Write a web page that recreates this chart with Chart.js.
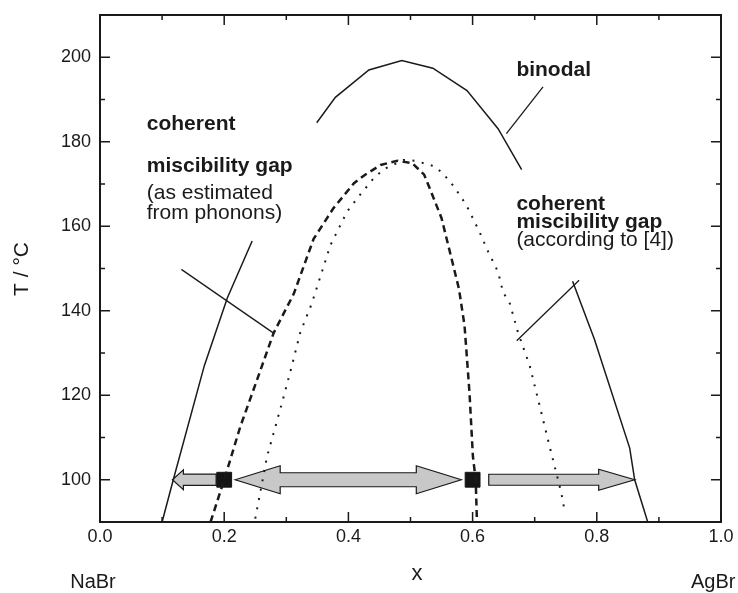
<!DOCTYPE html>
<html>
<head>
<meta charset="utf-8">
<script src="https://cdn.jsdelivr.net/npm/chart.js@4"></script>
<style>
  html, body { margin: 0; padding: 0; background: #fff; }
  canvas { display: block; }
</style>
</head>
<body>
<canvas id="phaseChart" width="738" height="593"></canvas>
<script>
const FONT = "'Liberation Sans', Arial, Helvetica, sans-serif";
const INK = "#1a1a1a";

// axis ticks
const xTickValues = [0, 0.2, 0.4, 0.6, 0.8, 1.0];
const xTickLabels = ["0.0", "0.2", "0.4", "0.6", "0.8", "1.0"];
const xMinorTicks = [0.1, 0.3, 0.5, 0.7, 0.9];
const yTickValues = [100, 120, 140, 160, 180, 200];
const yTickLabels = ["100", "120", "140", "160", "180", "200"];
const yMinorTicks = [110, 130, 150, 170, 190];

// binodal (solid), three pieces
const binodalLeftX = [0.100, 0.118, 0.168, 0.205, 0.245];
const binodalLeftT = [90, 100, 127, 143, 156.5];
const binodalTopX = [0.349, 0.379, 0.433, 0.486, 0.536, 0.591, 0.641, 0.679];
const binodalTopT = [184.5, 190.5, 197, 199.2, 197.4, 192.1, 183.1, 173.4];
const binodalRightX = [0.761, 0.796, 0.853, 0.861, 0.882];
const binodalRightT = [147, 133.3, 107.5, 100, 90];

// coherent gap estimated from phonons (dashed)
const phononX = [0.178, 0.200, 0.226, 0.253, 0.2795, 0.312, 0.344, 0.376, 0.409, 0.427, 0.452, 0.479, 0.503, 0.522, 0.532, 0.550, 0.566, 0.578, 0.587, 0.595, 0.6005, 0.605, 0.607];
const phononT = [90, 100, 112.6, 123.7, 134.7, 144, 157, 164.3, 170.2, 172.2, 174.5, 175.5, 174.9, 172.2, 168.6, 161.9, 152.4, 145.2, 136.5, 120.6, 105.5, 100, 90];

// coherent gap according to [4] (dotted)
const ref4X = [0.250, 0.269, 0.2795, 0.296, 0.309, 0.3226, 0.341, 0.371, 0.398, 0.419, 0.441, 0.457, 0.489, 0.508, 0.540, 0.554, 0.570, 0.590, 0.611, 0.625, 0.641, 0.649, 0.660, 0.673, 0.692, 0.708, 0.724, 0.743, 0.749];
const ref4T = [90.8, 105.5, 111, 119.8, 127, 134.9, 141.7, 155.5, 163.5, 167.5, 171.4, 173.5, 175.7, 175.5, 174.1, 172.2, 169.4, 165, 158.7, 154, 149.2, 144.4, 141.7, 134.9, 127, 117.5, 107.9, 96.8, 92];

// measured compositions at 100 °C
const markerX = [0.2, 0.6];
const markerT = [100, 100];

// leader lines from the labels
const leaderPhononX = [0.131, 0.2795];
const leaderPhononT = [149.8, 134.7];
const leaderBinodalX = [0.7134, 0.6544];
const leaderBinodalT = [193.0, 181.9];
const leaderRef4X = [0.671, 0.7715];
const leaderRef4T = [132.9, 147.2];

// arrows at 100 °C: [tail, tip] in x
const arrowLevel = 100;
const arrowSpans = [[0.187, 0.1166], [0.2177, 0.5818], [0.626, 0.861]];
const arrowStyles = [
  { head: 11, half: 10, shaft: 5.7, double: false },
  { head: 45, half: 14, shaft: 7, double: true },
  { head: 36, half: 10.5, shaft: 5.5, double: false }
];

const notes = [
  { text: "coherent", x: 0.0753, t: 182.8, bold: true },
  { text: "miscibility gap", x: 0.0753, t: 172.9, bold: true },
  { text: "(as estimated", x: 0.0753, t: 166.5 },
  { text: "from phonons)", x: 0.0753, t: 161.7 },
  { text: "binodal", x: 0.6705, t: 195.6, bold: true },
  { text: "coherent", x: 0.6705, t: 163.9, bold: true },
  { text: "miscibility gap", x: 0.6705, t: 159.5, bold: true },
  { text: "(according to [4])", x: 0.6705, t: 155.4 }
];

function pts(xs, ys) {
  return xs.map((x, i) => ({ x: x, y: ys[i] }));
}

function lineSet(xs, ys, width, dash) {
  return {
    data: pts(xs, ys),
    showLine: true,
    borderColor: INK,
    borderWidth: width,
    borderDash: dash || [],
    pointRadius: 0,
    tension: 0
  };
}

function drawArrow(ctx, x0, x1, yc, st) {
  const d = x1 > x0 ? 1 : -1;
  ctx.beginPath();
  if (st.double) {
    ctx.moveTo(x0, yc);
    ctx.lineTo(x0 + d * st.head, yc - st.half);
    ctx.lineTo(x0 + d * st.head, yc - st.shaft);
    ctx.lineTo(x1 - d * st.head, yc - st.shaft);
    ctx.lineTo(x1 - d * st.head, yc - st.half);
    ctx.lineTo(x1, yc);
    ctx.lineTo(x1 - d * st.head, yc + st.half);
    ctx.lineTo(x1 - d * st.head, yc + st.shaft);
    ctx.lineTo(x0 + d * st.head, yc + st.shaft);
    ctx.lineTo(x0 + d * st.head, yc + st.half);
  } else {
    ctx.moveTo(x0, yc - st.shaft);
    ctx.lineTo(x1 - d * st.head, yc - st.shaft);
    ctx.lineTo(x1 - d * st.head, yc - st.half);
    ctx.lineTo(x1, yc);
    ctx.lineTo(x1 - d * st.head, yc + st.half);
    ctx.lineTo(x1 - d * st.head, yc + st.shaft);
    ctx.lineTo(x0, yc + st.shaft);
  }
  ctx.closePath();
  ctx.fill();
  ctx.stroke();
}

// frame, inward ticks, arrows and text
const decorPlugin = {
  id: "decor",
  beforeDatasetsDraw(chart) {
    const { ctx, scales: { x, y } } = chart;
    ctx.save();
    ctx.fillStyle = "#c8c8c8";
    ctx.strokeStyle = INK;
    ctx.lineWidth = 1.2;
    ctx.lineJoin = "miter";
    arrowSpans.forEach((span, i) => {
      drawArrow(ctx, x.getPixelForValue(span[0]), x.getPixelForValue(span[1]),
        y.getPixelForValue(arrowLevel), arrowStyles[i]);
    });
    ctx.restore();
  },
  afterDraw(chart) {
    const { ctx, chartArea: a, scales: { x, y } } = chart;
    ctx.save();
    ctx.strokeStyle = INK;
    ctx.lineWidth = 2;
    ctx.strokeRect(a.left, a.top, a.right - a.left, a.bottom - a.top);

    ctx.lineWidth = 1.5;
    ctx.beginPath();
    const xt = (v, len) => {
      const px = x.getPixelForValue(v);
      ctx.moveTo(px, a.bottom); ctx.lineTo(px, a.bottom - len);
      ctx.moveTo(px, a.top); ctx.lineTo(px, a.top + len);
    };
    const yt = (v, len) => {
      const py = y.getPixelForValue(v);
      ctx.moveTo(a.left, py); ctx.lineTo(a.left + len, py);
      ctx.moveTo(a.right, py); ctx.lineTo(a.right - len, py);
    };
    xTickValues.forEach(v => xt(v, 10));
    xMinorTicks.forEach(v => xt(v, 5));
    yTickValues.forEach(v => yt(v, 10));
    yMinorTicks.forEach(v => yt(v, 5));
    ctx.stroke();

    ctx.fillStyle = INK;
    ctx.textAlign = "left";
    ctx.textBaseline = "alphabetic";
    notes.forEach(n => {
      ctx.font = (n.bold ? "bold " : "") + "21px " + FONT;
      ctx.fillText(n.text, x.getPixelForValue(n.x), y.getPixelForValue(n.t));
    });

    ctx.textBaseline = "middle";
    ctx.font = "20px " + FONT;
    ctx.textAlign = "center";
    ctx.fillText("NaBr", 93, 582);
    ctx.textAlign = "left";
    ctx.fillText("AgBr", 691, 582);
    ctx.textAlign = "center";
    ctx.font = "22px " + FONT;
    ctx.fillText("x", 417, 574);

    ctx.translate(22, 269);
    ctx.rotate(-Math.PI / 2);
    ctx.font = "21px " + FONT;
    ctx.fillText("T / \u00B0C", 0, 0);
    ctx.restore();
  }
};

const ctx = document.getElementById("phaseChart");
new Chart(ctx, {
  type: "scatter",
  data: {
    datasets: [
      lineSet(binodalLeftX, binodalLeftT, 1.5),
      lineSet(binodalTopX, binodalTopT, 1.5),
      lineSet(binodalRightX, binodalRightT, 1.5),
      lineSet(phononX, phononT, 2.5, [7, 4.5]),
      lineSet(ref4X, ref4T, 2, [2, 7.5]),
      lineSet(leaderPhononX, leaderPhononT, 1.3),
      lineSet(leaderBinodalX, leaderBinodalT, 1.3),
      lineSet(leaderRef4X, leaderRef4T, 1.3),
      {
        data: pts(markerX, markerT),
        pointStyle: "rect",
        pointRadius: 10.5,
        backgroundColor: "#151515",
        borderColor: "#151515",
        borderWidth: 1
      }
    ]
  },
  options: {
    responsive: false,
    animation: false,
    layout: { padding: { top: 15, right: 17, left: 0, bottom: 0 } },
    plugins: {
      legend: { display: false },
      tooltip: { enabled: false }
    },
    scales: {
      x: {
        type: "linear",
        min: 0,
        max: 1,
        grid: { display: false, drawTicks: false },
        border: { display: false },
        afterBuildTicks: s => { s.ticks = xTickValues.map(v => ({ value: v })); },
        afterFit: s => { s.height = 71; s.paddingLeft = 0; s.paddingRight = 0; },
        ticks: {
          padding: 4,
          color: INK,
          font: { family: FONT, size: 18 },
          maxRotation: 0,
          autoSkip: false,
          callback: (v, i) => xTickLabels[i]
        }
      },
      y: {
        type: "linear",
        min: 90,
        max: 210,
        grid: { display: false, drawTicks: false },
        border: { display: false },
        afterBuildTicks: s => { s.ticks = yTickValues.map(v => ({ value: v })); },
        afterFit: s => { s.width = 100; s.paddingTop = 0; s.paddingBottom = 0; },
        ticks: {
          padding: 9,
          color: INK,
          font: { family: FONT, size: 18 },
          autoSkip: false,
          callback: (v, i) => yTickLabels[i]
        }
      }
    }
  },
  plugins: [decorPlugin]
});
</script>
</body>
</html>
